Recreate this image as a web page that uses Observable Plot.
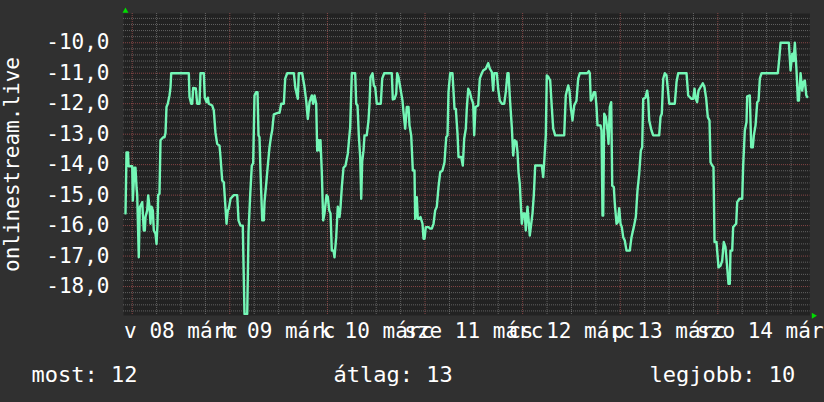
<!DOCTYPE html>
<html><head><meta charset="utf-8">
<script src="https://cdn.jsdelivr.net/npm/d3@7"></script>
<script src="https://cdn.jsdelivr.net/npm/@observablehq/plot@0.6"></script>
<style>
html,body{margin:0;padding:0;background:#303030;}
#chart{width:824px;height:402px;overflow:hidden}
</style></head><body><div id="chart"></div>
<script>
const seriesName = "onlinestream.live";
// hours since 2026-03-08 00:00
const hours = [
-1.65,-1.40,-1.03,-0.91,0.00,0.15,0.57,0.81,1.06,1.23,
1.62,1.87,2.46,2.85,3.10,3.27,3.69,3.93,4.25,4.50,
4.75,5.07,5.31,5.73,5.98,6.22,6.39,6.71,6.96,7.62,
7.94,8.19,8.43,8.75,9.17,9.42,9.59,13.92,14.09,14.51,
14.75,15.00,15.64,15.98,16.55,16.79,17.61,17.85,18.27,18.59,
18.83,19.67,20.06,20.48,20.90,21.47,21.71,22.13,22.52,22.77,
23.19,23.51,23.75,24.17,24.98,25.82,26.14,26.63,27.19,27.61,
28.28,28.60,29.01,29.41,29.75,30.07,30.49,30.81,31.06,31.30,
31.55,31.97,32.36,32.53,32.95,33.34,33.76,34.18,34.42,34.82,
35.80,36.22,36.64,37.28,37.62,38.11,39.74,40.15,40.72,40.96,
41.80,42.37,42.78,43.18,43.60,44.16,44.51,44.83,45.24,45.49,
45.81,46.05,46.30,46.62,46.96,47.28,47.78,48.09,48.44,48.76,
49.08,49.50,49.74,50.16,50.55,50.97,51.22,51.54,51.96,52.45,
53.01,53.60,54.00,54.83,55.08,55.40,55.72,56.06,56.31,56.55,
56.87,57.12,57.68,58.10,58.35,58.59,59.09,59.41,59.75,60.14,
61.13,61.47,61.96,63.83,64.08,64.50,64.91,65.16,65.48,65.90,
66.46,66.71,67.13,67.52,67.94,68.18,68.60,69.00,69.41,69.58,
69.98,70.23,70.64,70.89,71.38,71.63,71.88,72.19,72.86,73.27,
73.67,74.09,74.50,74.90,75.31,75.73,76.29,76.79,77.21,77.53,
77.77,78.19,78.75,79.25,79.57,79.99,80.23,80.90,81.29,81.63,
82.03,82.27,82.62,83.01,83.43,83.85,84.09,84.41,85.07,85.47,
85.96,86.30,86.94,87.53,87.93,88.42,88.76,89.01,89.65,89.99,
90.39,90.88,91.47,91.86,92.28,92.53,92.85,93.34,93.68,94.08,
94.49,94.74,94.99,95.30,95.55,95.80,96.14,96.53,96.78,97.20,
97.45,97.76,98.11,98.43,98.75,99.09,100.72,101.06,101.38,101.70,
101.94,102.36,102.78,103.17,103.52,104.01,106.22,106.61,107.20,107.52,
107.84,108.26,108.68,109.24,109.66,110.06,111.88,112.27,112.52,112.76,
113.11,113.50,113.85,114.17,114.41,115.15,115.40,115.64,115.81,116.06,
116.46,116.87,117.12,117.44,117.78,118.03,118.42,118.67,119.09,119.40,
119.75,120.07,120.39,120.73,121.12,121.54,122.35,122.77,123.33,123.83,
124.24,124.66,125.06,125.40,125.65,126.21,126.63,126.88,127.12,127.69,
128.11,129.58,129.90,130.22,130.57,130.96,131.38,131.70,132.05,133.42,
133.84,134.25,136.30,136.71,137.52,137.94,138.26,138.58,138.92,139.24,
139.73,140.30,140.72,141.14,141.53,141.95,142.20,142.61,142.93,143.18,
143.67,144.16,144.65,145.07,145.46,145.88,146.30,146.62,146.94,147.11,
147.53,147.77,148.17,148.51,148.76,149.32,149.99,150.23,150.63,151.05,
151.22,151.86,152.21,152.60,152.85,153.27,153.69,154.01,154.33,154.75,
158.75,159.10,159.42,161.46,161.88,162.30,162.62,162.94,163.36,163.68,
163.92,164.34,164.74,165.06,165.39,165.75,165.99
];
const values = [
-15.6,-13.6,-13.6,-14.05,-14.05,-15.18,-14.1,-14.1,-14.74,-15.0,
-17.04,-15.4,-15.23,-16.16,-16.16,-15.72,-15.5,-15.01,-15.38,-15.94,
-15.38,-15.5,-16.16,-16.27,-16.6,-15.94,-15.0,-14.95,-13.2,-13.1,
-13.1,-12.96,-12.11,-12.0,-11.73,-11.46,-11.0,-11.0,-11.78,-12.0,
-12.0,-11.48,-11.5,-12.0,-12.0,-11.0,-11.0,-11.8,-11.95,-11.8,
-12.0,-12.06,-12.22,-12.96,-13.32,-13.38,-13.75,-14.52,-14.58,-15.07,
-15.94,-15.5,-15.45,-15.12,-15.0,-15.0,-15.83,-16.0,-16.0,-18.9,
-18.9,-16.2,-15.0,-14.03,-13.95,-11.73,-11.62,-11.62,-13.04,-13.1,
-14.25,-15.83,-15.83,-15.23,-14.63,-14.03,-13.43,-13.04,-12.88,-12.35,
-12.3,-12.3,-12.0,-12.0,-11.18,-11.0,-11.0,-11.51,-11.84,-11.0,
-11.0,-11.46,-11.9,-12.5,-11.95,-11.73,-12.0,-11.73,-12.0,-13.54,
-13.2,-13.54,-13.2,-14.25,-15.83,-15.6,-15.0,-15.05,-15.5,-15.6,
-16.82,-16.82,-17.04,-16.38,-15.38,-15.72,-15.4,-14.74,-14.1,-14.03,
-13.64,-12.77,-11.0,-11.0,-12.0,-12.06,-13.04,-13.75,-15.12,-13.9,
-13.54,-13.04,-13.04,-12.55,-12.0,-11.13,-11.0,-11.4,-11.46,-12.0,
-12.0,-11.18,-11.0,-11.0,-11.86,-11.84,-11.68,-11.0,-11.13,-11.46,
-11.9,-12.28,-12.82,-12.11,-12.11,-12.71,-13.04,-14.19,-14.19,-15.78,
-15.07,-15.78,-15.78,-15.72,-15.94,-16.43,-16.43,-16.05,-16.05,-16.1,
-16.1,-15.94,-15.5,-15.38,-14.74,-14.25,-14.19,-13.92,-13.1,-13.04,
-11.62,-11.0,-11.0,-12.17,-12.17,-12.99,-13.75,-13.75,-14.03,-13.15,
-12.82,-12.17,-11.51,-11.62,-11.84,-12.0,-13.04,-12.11,-12.06,-11.18,
-11.0,-10.91,-10.85,-10.67,-10.85,-10.96,-11.57,-11.0,-11.0,-11.51,
-11.9,-12.0,-12.0,-11.62,-11.0,-11.0,-11.78,-12.77,-13.7,-13.2,
-13.25,-13.59,-14.25,-14.63,-15.29,-15.94,-15.6,-15.6,-16.16,-15.38,
-15.78,-16.33,-15.94,-15.6,-15.0,-14.03,-14.03,-14.41,-13.75,-13.04,
-11.07,-11.13,-11.24,-12.11,-12.82,-13.04,-13.04,-11.73,-11.4,-11.57,
-12.11,-12.55,-12.06,-11.9,-11.18,-11.0,-11.0,-10.93,-11.0,-11.9,
-11.84,-11.62,-11.62,-12.11,-12.71,-12.71,-12.88,-15.67,-15.67,-12.33,
-12.44,-12.88,-13.32,-12.11,-11.95,-14.69,-14.74,-15.29,-15.94,-15.89,
-15.43,-15.94,-16.05,-16.38,-16.49,-16.82,-16.82,-16.38,-16.05,-15.72,
-14.85,-14.3,-13.54,-13.43,-11.84,-11.8,-11.57,-11.84,-12.55,-12.88,
-13.04,-13.04,-12.44,-12.33,-11.18,-11.0,-11.07,-11.51,-12.0,-12.0,
-11.29,-11.0,-11.0,-11.73,-11.84,-11.84,-11.51,-11.84,-11.95,-11.57,
-11.46,-11.33,-11.46,-11.84,-12.44,-12.55,-13.92,-14.03,-14.08,-16.54,
-16.54,-17.37,-17.32,-17.15,-16.54,-16.71,-17.37,-17.91,-17.91,-16.82,
-16.82,-16.05,-15.99,-15.94,-15.23,-15.12,-15.12,-14.03,-12.88,-12.6,
-11.76,-11.73,-13.43,-13.43,-13.04,-12.71,-11.95,-11.9,-11.18,-11.0,
-11.0,-10.53,-10.0,-10.0,-10.91,-10.36,-10.6,-10.0,-10.96,-11.9,
-11.9,-11.0,-11.57,-11.29,-11.24,-11.73,-11.78
];
const dayLabels = ["v 08 márc","h 09 márc","k 10 márc","sze 11 márc","cs 12 márc","p 13 márc","szo 14 márc"];
const yTicks = [-10,-11,-12,-13,-14,-15,-16,-17,-18];
const legendNames = ["most","átlag","legjobb"];
const legendValues = [12,13,10];

const t0 = Date.UTC(2026, 2, 8);
const H = 3600000;
const xDomain = [new Date(t0 - 2.14 * H), new Date(t0 + 166.66 * H)];
const yDomain = [-18.95, -9.04];

if (hours.length !== values.length) console.error("length mismatch", hours.length, values.length);
const data = hours.map((h, i) => ({t: new Date(t0 + h * H), v: values[i]}));

const noonTicks = dayLabels.map((_, i) => new Date(t0 + (i * 24 + 12) * H));
const labelOf = d => dayLabels[Math.round((d - t0) / (24 * H) - 0.5)];
const majorX = d3.range(0, 167, 24).map(h => new Date(t0 + h * H));
const minorX = d3.range(0, 167, 6).filter(h => h % 24 !== 0).map(h => new Date(t0 + h * H));
const minorY = d3.range(-94, -45).map(k => k / 5).filter(v => !Number.isInteger(v) && v >= yDomain[0] && v <= yDomain[1]);
const fmt = d => d.toFixed(1).replace(".", ",");

const chart = Plot.plot({
  width: 824, height: 402,
  marginLeft: 123, marginRight: 14.5, marginTop: 13, marginBottom: 87,
  style: {background: "#303030", color: "#ffffff", fontFamily: "'DejaVu Sans Mono', monospace", fontSize: "21px", overflow: "visible"},
  x: {type: "utc", domain: xDomain, axis: null},
  y: {domain: yDomain, axis: null},
  marks: [
    Plot.frame({fill: "#222222", stroke: null}),
    Plot.gridY(minorY, {stroke: "#c0c0c0", strokeOpacity: 0.4, strokeDasharray: "1,1"}),
    Plot.gridX(minorX, {stroke: "#c0c0c0", strokeOpacity: 0.4, strokeDasharray: "1,1"}),
    Plot.gridY(yTicks, {stroke: "#ff7070", strokeOpacity: 0.45, strokeDasharray: "1,1"}),
    Plot.gridX(majorX, {stroke: "#ff7070", strokeOpacity: 0.45, strokeDasharray: "1,1"}),
    Plot.line(data, {x: "t", y: "v", stroke: "#74f7b6", strokeWidth: 2.4, clip: true}),
    Plot.axisY(yTicks, {tickFormat: fmt, tickSize: 0, tickPadding: 14, fontSize: 21, fill: "#ffffff", label: null}),
    Plot.axisX(noonTicks, {tickFormat: labelOf, tickSize: 0, tickPadding: 8, fontSize: 21, fill: "#ffffff", label: null}),
    Plot.dot([0], {x: () => xDomain[0], y: () => yDomain[1], symbol: "triangle", r: 2.2, dx: 2, dy: -2.5, fill: "#00dd00", stroke: null}),
    Plot.dot([0], {x: () => xDomain[1], y: () => yDomain[0], symbol: "triangle", r: 2.2, dx: 3.5, dy: 0.3, rotate: 90, fill: "#00dd00", stroke: null}),
    Plot.text([seriesName], {frameAnchor: "left", textAnchor: "middle", lineAnchor: "middle", rotate: -90, dx: -111, fill: "#ffffff", fontSize: 21}),
    Plot.text([`${legendNames[0]}: ${legendValues[0]}`], {frameAnchor: "bottom-left", textAnchor: "start", lineAnchor: "middle", dx: -92, dy: 59, fill: "#ffffff", fontSize: 22}),
    Plot.text([`${legendNames[1]}: ${legendValues[1]}`], {frameAnchor: "bottom-left", textAnchor: "start", lineAnchor: "middle", dx: 210, dy: 59, fill: "#ffffff", fontSize: 22}),
    Plot.text([`${legendNames[2]}: ${legendValues[2]}`], {frameAnchor: "bottom-left", textAnchor: "start", lineAnchor: "middle", dx: 526, dy: 59, fill: "#ffffff", fontSize: 22})
  ]
});
document.getElementById("chart").appendChild(chart);
</script></body></html>
